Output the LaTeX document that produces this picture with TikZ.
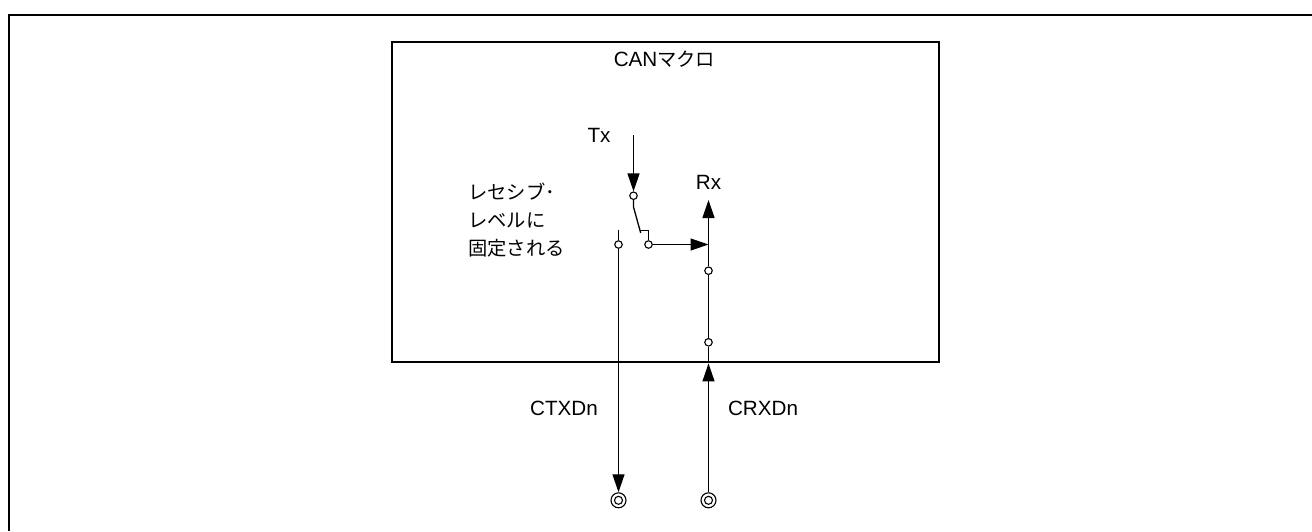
\documentclass[tikz,border=0pt]{standalone}
\usepackage{fontspec}
\setmainfont[Scale=1.07]{Liberation Sans}
\newfontfamily\cjk{Noto Sans CJK JP}
\usetikzlibrary{arrows.meta,positioning,calc}
\tikzset{
  x=1pt, y=-1pt,
  frameLine/.style={draw=black, line width=2pt},
  macroBox/.style={draw=black, line width=2.4pt, fill=white, inner sep=0pt, anchor=north west},
  label/.style={inner sep=0pt, align=left, font=\fontsize{19.3}{28}\selectfont},
  contact/.style={circle, draw=black, line width=1.1pt, fill=white, inner sep=0pt, minimum size=7.5pt},
  pinOuter/.style={circle, draw=black, line width=1.1pt, fill=white, inner sep=0pt, minimum size=15pt},
  pinInner/.style={circle, draw=black, line width=1.1pt, fill=white, inner sep=0pt, minimum size=8pt},
  arrow/.style={-{Triangle[length=18pt,width=12pt]}, line width=1.3pt, draw=black},
  wire/.style={line width=1.3pt, draw=black}
}
\begin{document}
\begin{tikzpicture}
\useasboundingbox (0,0) rectangle (1312,531);
\coordinate (frameBL) at (9,531);
\coordinate (frameTL) at (9,14.5);
\coordinate (frameTR) at (1312,14.5);
\draw[frameLine] (frameBL) -- (frameTL) -- (frameTR);
\node[macroBox, minimum width=547pt, minimum height=320pt] (macro) at (391,41) {};

\node[label] (title) at (664.5,59.5) {CAN{\cjk マクロ}};
\node[label] (txlabel) at (599,135) {Tx};
\node[label] (rxlabel) at (708.5,182) {Rx};
\node[label, anchor=north west] (recessive) at (468,183) {\cjk レセシブ･\\\cjk レベルに\\\cjk 固定される};
\node[label] (ctxd) at (564,408.5) {CTXDn};
\node[label] (crxd) at (763,408.5) {CRXDn};

\coordinate (txtop) at (633.5,135);
\coordinate (swtop) at (633.5,207);
\coordinate (swend) at (640.7,233);
\coordinate (hookl) at (640.2,230.5);
\coordinate (hookr) at (648.5,230.5);
\coordinate (stubtop) at (618.5,229.5);
\coordinate (rxtip) at (708.5,200);
\coordinate (rxjoin) at (708.5,244.5);

\node[contact] (sw1) at (633.5,195.7) {};
\node[contact] (sw2) at (648.5,244.5) {};
\node[contact] (sw3) at (618.5,244.5) {};
\node[contact] (rx1) at (708.5,270.7) {};
\node[contact] (rx2) at (708.5,342.3) {};
\node[pinOuter] (pintx) at (618.5,500.3) {};
\node[pinInner] (pintxin) at (618.5,500.3) {};
\node[pinOuter] (pinrx) at (708.5,500.3) {};
\node[pinInner] (pinrxin) at (708.5,500.3) {};

\draw[arrow] (txtop) -- (sw1);
\draw[wire] (sw1) -- (swtop) -- (swend);
\draw[wire] (hookl) -- (hookr) -- (sw2);
\draw[arrow] (sw2) -- (rxjoin);
\draw[arrow] (rx1) -- (rxtip);
\draw[wire] (rx2) -- (rx1);
\draw[wire] (rx2) -- (macro.south -| rx2);
\draw[wire] (stubtop) -- (sw3);
\draw[arrow] (sw3) -- (pintx);
\draw[arrow] (pinrx) -- (macro.south -| pinrx);
\end{tikzpicture}
\end{document}
